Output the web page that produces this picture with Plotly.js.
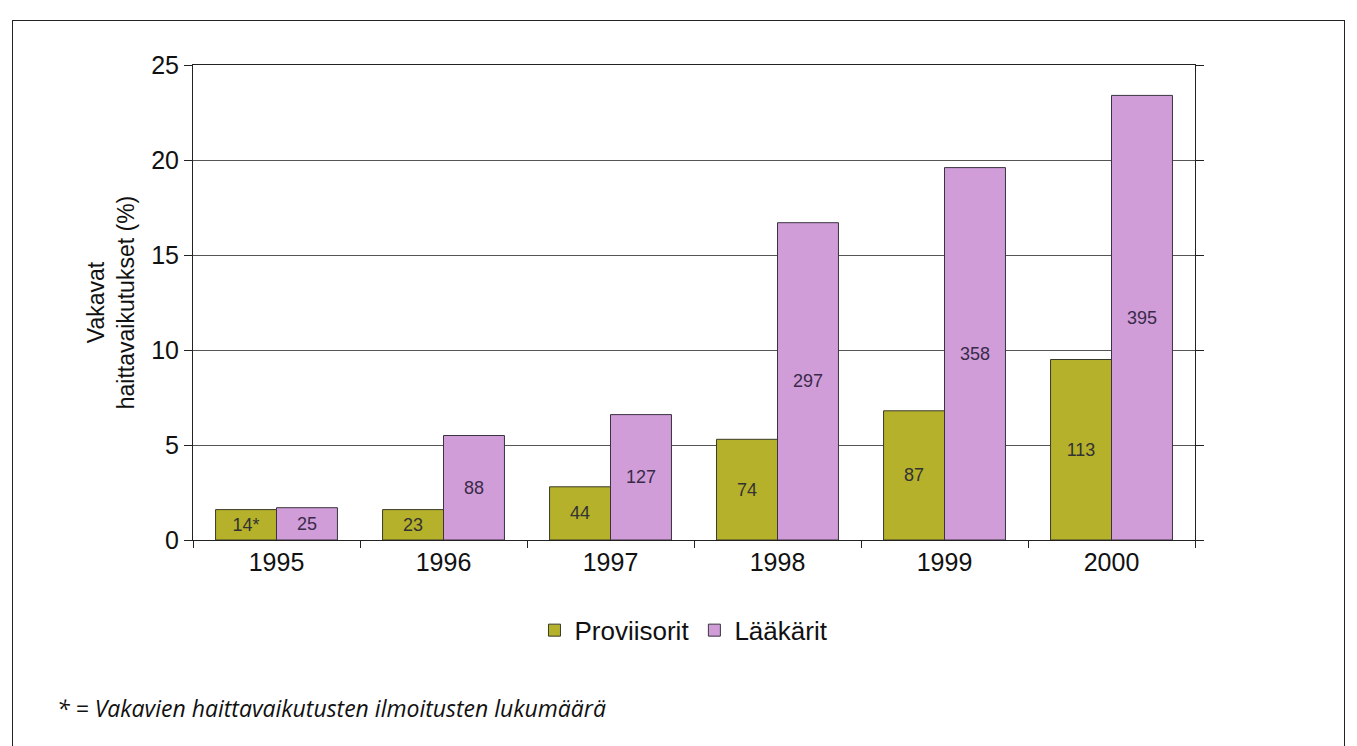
<!DOCTYPE html>
<html>
<head>
<meta charset="utf-8">
<script src="https://cdn.plot.ly/plotly-3.0.1.min.js"></script>
<style>
  html, body { margin: 0; padding: 0; background: #fff; }
  #frame { position: absolute; left: 12px; top: 20px; width: 1333px; height: 740px; border-left: 1px solid #222; border-top: 1px solid #222; border-right: 1px solid #222; box-sizing: border-box; pointer-events: none; }
  #chart { width: 1357px; height: 746px; }
</style>
</head>
<body>
<div id="chart"></div>
<div id="frame"></div>
<script>
const years = ['1995', '1996', '1997', '1998', '1999', '2000'];
const proviisoritPct = [1.6, 1.6, 2.8, 5.3, 6.8, 9.5];
const laakaritPct = [1.7, 5.5, 6.6, 16.7, 19.6, 23.4];
const proviisoritCount = ['14*', '23', '44', '74', '87', '113'];
const laakaritCount = ['25', '88', '127', '297', '358', '395'];
const seriesNames = ['Proviisorit', 'Lääkärit'];
const yTitle = 'Vakavat<br>haittavaikutukset (%)';
const footnote = '* = Vakavien haittavaikutusten ilmoitusten lukumäärä';

const traces = [
  {
    type: 'bar', name: seriesNames[0], x: years, y: proviisoritPct,
    text: proviisoritCount, textposition: 'inside', insidetextanchor: 'middle',
    textfont: { family: 'Arial, Liberation Sans, sans-serif', size: 18, color: '#333' },
    marker: { color: '#b6b12b', line: { color: '#3a3a2a', width: 1 } },
    hoverinfo: 'skip'
  },
  {
    type: 'bar', name: seriesNames[1], x: years, y: laakaritPct,
    text: laakaritCount, textposition: 'inside', insidetextanchor: 'middle',
    textfont: { family: 'Arial, Liberation Sans, sans-serif', size: 18, color: '#3a2a4a' },
    marker: { color: '#d09dd8', line: { color: '#3a3340', width: 1 } },
    hoverinfo: 'skip'
  }
];

const layout = {
  width: 1357, height: 746,
  margin: { l: 193, r: 162, t: 65, b: 206 },
  paper_bgcolor: '#ffffff', plot_bgcolor: '#ffffff',
  font: { family: 'Arial, Liberation Sans, sans-serif', color: '#111' },
  barmode: 'group', bargap: 0.27, bargroupgap: 0,
  uniformtext: { mode: 'show', minsize: 10 },
  xaxis: {
    type: 'category',
    tickfont: { size: 25, color: '#111' },
    ticks: 'outside', ticklen: 7, tickcolor: '#222', tickson: 'boundaries',
    showline: true, linecolor: '#222', linewidth: 1, mirror: true,
    showgrid: false, zeroline: false
  },
  yaxis: {
    range: [0, 25], dtick: 5,
    tickfont: { size: 25, color: '#111' },
    ticks: 'outside', ticklen: 8, tickcolor: '#222',
    showline: true, linecolor: '#222', linewidth: 1, mirror: 'ticks',
    showgrid: true, gridcolor: '#555', gridwidth: 1, zeroline: false,
    title: { text: yTitle, font: { size: 23, color: '#111' }, standoff: 10 }
  },
  legend: {
    orientation: 'h', x: 0.49, xanchor: 'center', y: -0.19, yanchor: 'middle',
    font: { size: 26, color: '#111' }, itemwidth: 30, tracegroupgap: 0,
    bgcolor: 'rgba(0,0,0,0)'
  },
  annotations: [
    {
      text: '<i>' + footnote + '</i>', xref: 'paper', yref: 'paper',
      x: -0.138, y: -0.353, xanchor: 'left', yanchor: 'middle', showarrow: false,
      font: { family: 'Open Sans, Noto Sans, sans-serif', size: 23, color: '#111' }
    }
  ]
};

Plotly.newPlot('chart', traces, layout, { displayModeBar: false, staticPlot: true });
</script>
</body>
</html>
